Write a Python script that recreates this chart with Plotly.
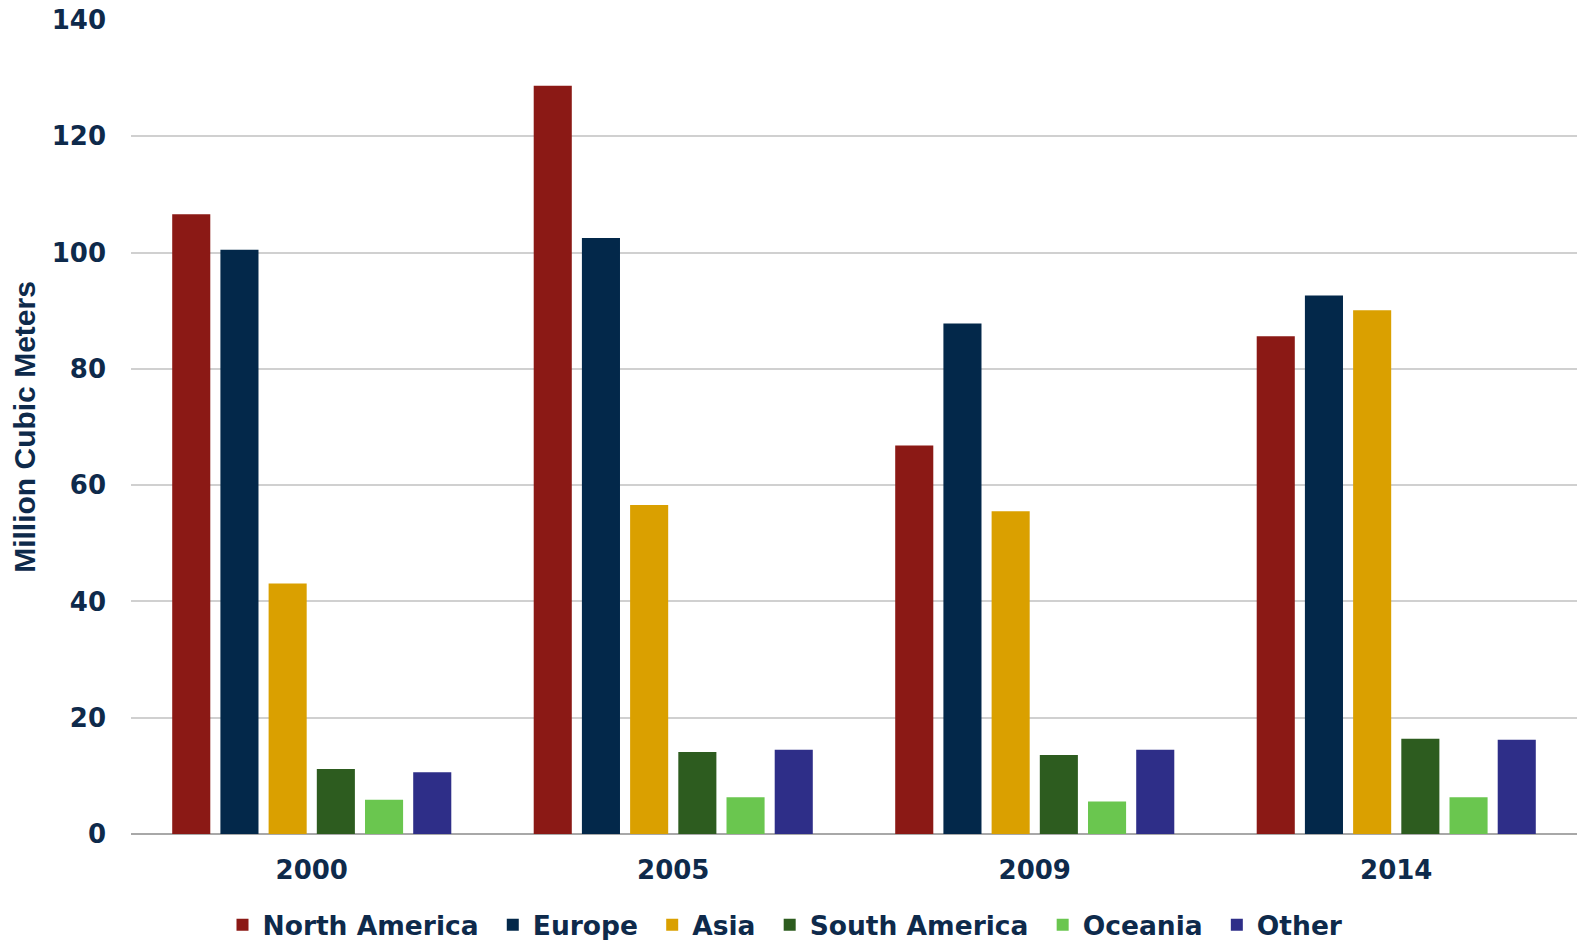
import plotly.graph_objects as go

years = ["2000", "2005", "2009", "2014"]
north_america = [106.6, 128.7, 66.8, 85.6]
europe = [100.5, 102.5, 87.8, 92.6]
asia = [43.1, 56.6, 55.5, 90.1]
south_america = [11.2, 14.1, 13.6, 16.4]
oceania = [5.9, 6.3, 5.6, 6.3]
other = [10.6, 14.5, 14.5, 16.2]

series = [
    ("North America", north_america, "#8b1915"),
    ("Europe", europe, "#03284a"),
    ("Asia", asia, "#daa000"),
    ("South America", south_america, "#2d5c1f"),
    ("Oceania", oceania, "#6ac64f"),
    ("Other", other, "#2e2e88"),
]

TEXT = "#0e2a4b"
FONT = "DejaVu Sans, Verdana, sans-serif"
PAD = "\u00a0"

fig = go.Figure()
for name, vals, color in series:
    fig.add_trace(go.Bar(name=name + PAD, x=years, y=vals, marker_color=color,
                         marker_line_width=0))

fig.update_layout(
    width=1579, height=940,
    margin=dict(l=131, r=2, t=19.5, b=106.3, autoexpand=False),
    paper_bgcolor="white", plot_bgcolor="white",
    barmode="group", bargap=0.2, bargroupgap=0.21,
    font=dict(family=FONT, size=26, color=TEXT, weight="bold"),
    showlegend=True,
    legend=dict(orientation="h", xref="container", yref="container",
                x=0.5, xanchor="center", y=0.016, yanchor="middle",
                font=dict(family=FONT, size=26.5, color=TEXT, weight="bold"),
                traceorder="normal"),
    xaxis=dict(showgrid=False, showline=False, ticks="",
               tickfont=dict(family=FONT, size=26, color=TEXT, weight="bold"),
               ticklabelstandoff=18),
    yaxis=dict(range=[0, 140], dtick=20, showgrid=True, gridcolor="#d0d0d0", gridwidth=1.5,
               zeroline=True, zerolinecolor="#a8a8a8", zerolinewidth=2,
               showline=False, ticks="",
               tickfont=dict(family=FONT, size=26, color=TEXT, weight="bold"),
               ticklabelstandoff=24,
               title=dict(text="Million Cubic Meters",
                          font=dict(family="Liberation Sans, Arial, sans-serif", size=30,
                                    color=TEXT, weight="bold"),
                          standoff=7)),
)

fig.write_html("out.html")
